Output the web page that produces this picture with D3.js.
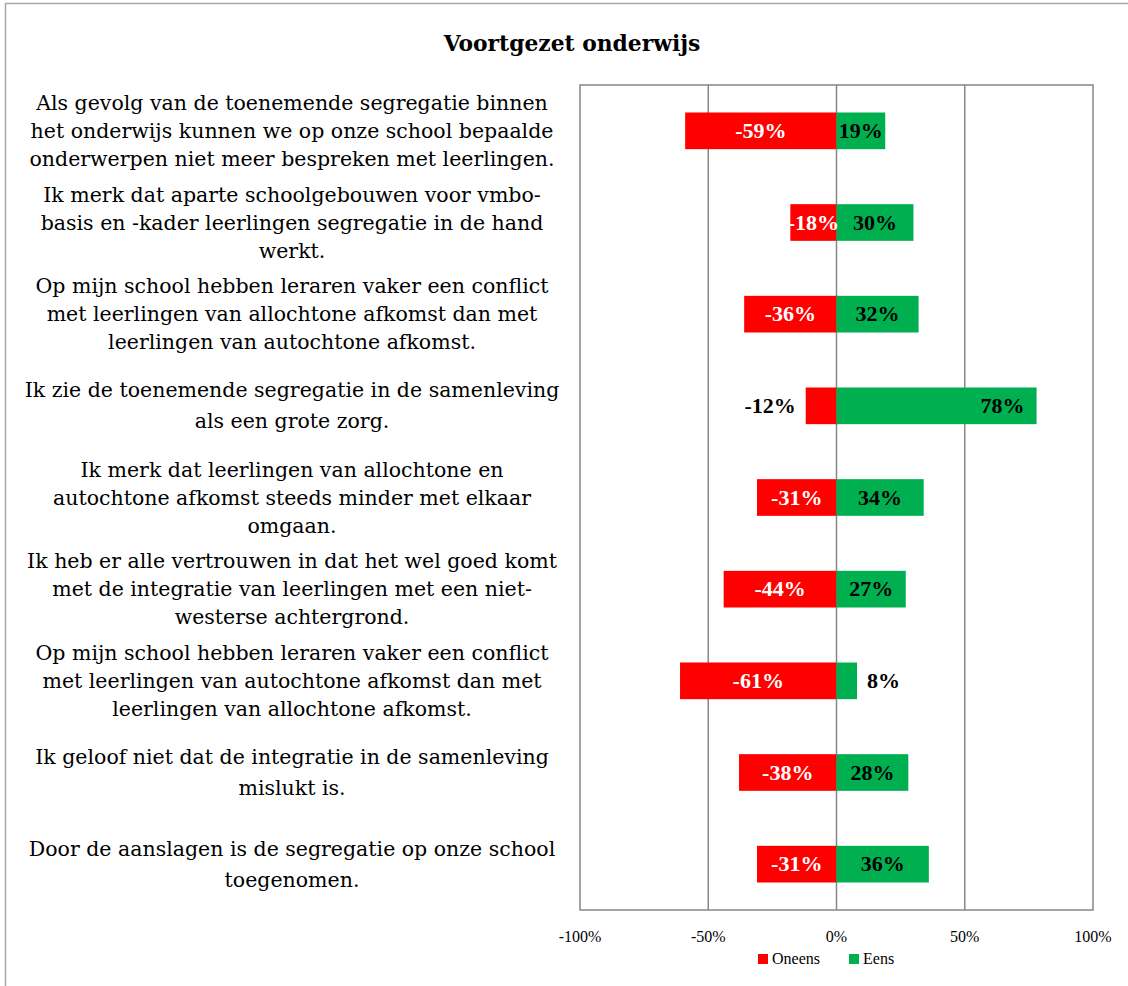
<!DOCTYPE html>
<html lang="nl">
<head>
    <meta charset="UTF-8">
    <title>Voortgezet onderwijs</title>
    <script src="https://d3js.org/d3.v7.min.js"></script>
    <style>
        body {
            margin: 0;
            background-color: #fff;
            font-family: 'Liberation Serif', 'Times New Roman', serif;
        }
        .cat-label {
            font-family: 'DejaVu Serif', serif;
            font-size: 20.5px;
            fill: #000;
            text-anchor: middle;
        }
        .bar-label {
            font-size: 22px;
            font-weight: bold;
        }
        .tick-label {
            font-size: 16px;
            fill: #000;
            text-anchor: middle;
        }
        .legend-text {
            font-size: 16px;
            fill: #000;
        }
    </style>
</head>
<body>
    <svg width="1128" height="986"></svg>

    <script>
        // category labels, already broken into lines as in the original
        var categories = [
            ["Als gevolg van de toenemende segregatie binnen", "het onderwijs kunnen we op onze school bepaalde", "onderwerpen niet meer bespreken met leerlingen."],
            ["Ik merk dat aparte schoolgebouwen voor vmbo-", "basis en -kader leerlingen segregatie in de hand", "werkt."],
            ["Op mijn school hebben leraren vaker een conflict", "met leerlingen van allochtone afkomst dan met", "leerlingen van autochtone afkomst."],
            ["Ik zie de toenemende segregatie in de samenleving", "als een grote zorg."],
            ["Ik merk dat leerlingen van allochtone en", "autochtone afkomst steeds minder met elkaar", "omgaan."],
            ["Ik heb er alle vertrouwen in dat het wel goed komt", "met de integratie van leerlingen met een niet-", "westerse achtergrond."],
            ["Op mijn school hebben leraren vaker een conflict", "met leerlingen van autochtone afkomst dan met", "leerlingen van allochtone afkomst."],
            ["Ik geloof niet dat de integratie in de samenleving", "mislukt is."],
            ["Door de aanslagen is de segregatie op onze school", "toegenomen."]
        ];
        var oneens = [-59, -18, -36, -12, -31, -44, -61, -38, -31];
        var eens = [19, 30, 32, 78, 34, 27, 8, 28, 36];
        var xTicks = [-100, -50, 0, 50, 100];
        var seriesNames = ["Oneens", "Eens"];

        var RED = "#ff0000", GREEN = "#00b050", GRID = "#878787";

        var plot = { left: 580, right: 1093, top: 85, bottom: 910 };

        var svg = d3.select("svg");

        // outer frame (runs off the right/bottom edge like the original)
        svg.append("rect")
            .attr("x", 5.5).attr("y", 3.5)
            .attr("width", 1140).attr("height", 1000)
            .attr("fill", "none")
            .attr("stroke", "#a6a6a6")
            .attr("stroke-width", 1.5);

        svg.append("text")
            .attr("x", 572).attr("y", 51)
            .attr("text-anchor", "middle")
            .style("font-family", "'DejaVu Serif', serif")
            .style("font-size", "21.8px")
            .style("font-weight", "bold")
            .text("Voortgezet onderwijs");

        var x = d3.scaleLinear()
            .domain([-100, 100])
            .range([plot.left, plot.right]);

        var idx = d3.range(categories.length);
        var y = d3.scaleBand()
            .domain(idx)
            .range([plot.top, plot.bottom])
            .paddingInner(0.6)
            .paddingOuter(0.3);

        // plot box
        svg.append("rect")
            .attr("x", plot.left).attr("y", plot.top)
            .attr("width", plot.right - plot.left)
            .attr("height", plot.bottom - plot.top)
            .attr("fill", "none")
            .attr("stroke", GRID)
            .attr("stroke-width", 1.5);

        // vertical grid lines
        svg.selectAll(".grid")
            .data(xTicks.slice(1, -1))
            .enter().append("line")
            .attr("x1", function(d) { return x(d); })
            .attr("x2", function(d) { return x(d); })
            .attr("y1", plot.top).attr("y2", plot.bottom)
            .attr("stroke", GRID)
            .attr("stroke-width", 1.5);

        // x axis labels
        svg.selectAll(".tick-label")
            .data(xTicks)
            .enter().append("text")
            .attr("class", "tick-label")
            .attr("x", function(d) { return x(d); })
            .attr("y", 942)
            .text(function(d) { return d + "%"; });

        // bars
        var rows = idx.map(function(i) { return { i: i, neg: oneens[i], pos: eens[i] }; });

        svg.selectAll(".bar-neg")
            .data(rows)
            .enter().append("rect")
            .attr("x", function(d) { return x(d.neg); })
            .attr("y", function(d) { return y(d.i); })
            .attr("width", function(d) { return x(0) - x(d.neg); })
            .attr("height", y.bandwidth())
            .attr("fill", RED);

        svg.selectAll(".bar-pos")
            .data(rows)
            .enter().append("rect")
            .attr("x", x(0))
            .attr("y", function(d) { return y(d.i); })
            .attr("width", function(d) { return x(d.pos) - x(0); })
            .attr("height", y.bandwidth())
            .attr("fill", GREEN);

        // value labels: centred in the bar, outside when the bar is too short
        function mid(d) { return y(d.i) + y.bandwidth() / 2 + 7; }

        svg.selectAll(".lab-neg")
            .data(rows)
            .enter().append("text")
            .attr("class", "bar-label")
            .attr("y", mid)
            .attr("x", function(d) {
                if (Math.abs(d.neg) <= 12) return x(d.neg) - 10;
                return (x(d.neg) + x(0)) / 2;
            })
            .attr("text-anchor", function(d) { return Math.abs(d.neg) <= 12 ? "end" : "middle"; })
            .attr("fill", function(d) { return Math.abs(d.neg) <= 12 ? "#000" : "#fff"; })
            .text(function(d) { return d.neg + "%"; });

        svg.selectAll(".lab-pos")
            .data(rows)
            .enter().append("text")
            .attr("class", "bar-label")
            .attr("y", mid)
            .attr("x", function(d) {
                if (d.pos <= 12) return x(d.pos) + 10;
                if (d.pos >= 50) return x(d.pos) - 12;
                return (x(d.pos) + x(0)) / 2;
            })
            .attr("text-anchor", function(d) {
                if (d.pos <= 12) return "start";
                if (d.pos >= 50) return "end";
                return "middle";
            })
            .attr("fill", "#000")
            .text(function(d) { return d.pos + "%"; });

        // category labels
        var lineH = 28;
        var catG = svg.selectAll(".cat")
            .data(rows)
            .enter().append("text")
            .attr("class", "cat-label")
            .attr("transform", function(d) {
                var n = categories[d.i].length;
                var gap = n === 2 ? 31 : lineH;
                var cy = y(d.i) + y.bandwidth() / 2 - (n - 1) * gap / 2 + 7;
                return "translate(292," + cy + ")";
            });

        catG.selectAll("tspan")
            .data(function(d) { return categories[d.i]; })
            .enter().append("tspan")
            .attr("x", 0)
            .attr("dy", function(d, j, nodes) {
                if (j === 0) return 0;
                return nodes.length === 2 ? 31 : lineH;
            })
            .text(function(d) { return d; });

        // legend
        var legend = svg.append("g").attr("transform", "translate(758,954)");
        var legendX = [0, 91];
        var legendColors = [RED, GREEN];
        seriesNames.forEach(function(name, k) {
            legend.append("rect")
                .attr("x", legendX[k]).attr("y", 0)
                .attr("width", 10).attr("height", 10)
                .attr("fill", legendColors[k]);
            legend.append("text")
                .attr("class", "legend-text")
                .attr("x", legendX[k] + 14).attr("y", 10)
                .text(name);
        });
    </script>
</body>
</html>
